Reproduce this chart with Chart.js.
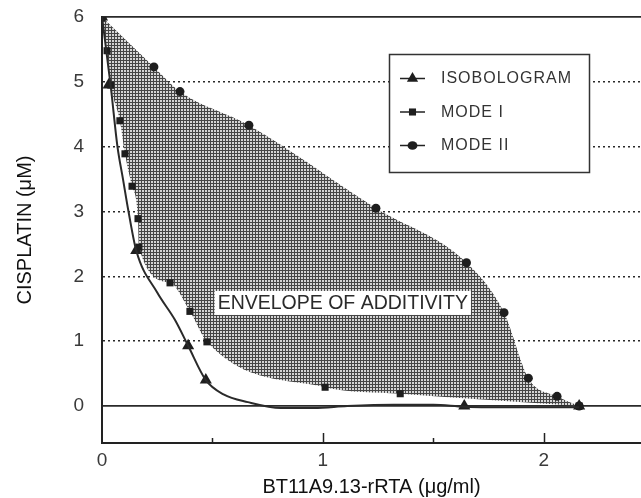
<!DOCTYPE html>
<html>
<head>
<meta charset="utf-8">
<script src="https://cdn.jsdelivr.net/npm/chart.js@4.4.0/dist/chart.umd.min.js"></script>
<style>
  html, body { margin: 0; padding: 0; background: #fff; }
</style>
</head>
<body>
<canvas id="myChart" width="641" height="498"></canvas>
<script>
// isobologram: smooth fitted curve and the measured points (triangles)
const isoCurveX = [0, 0.04, 0.07, 0.095, 0.12, 0.155, 0.25, 0.33, 0.39, 0.47, 0.55, 0.66, 0.81, 0.96, 1.11, 1.32, 1.5, 1.64, 1.9, 2.16];
const isoCurveY = [6, 4.92, 4.0, 3.5, 3.0, 2.4, 1.75, 1.33, 0.93, 0.4, 0.18, 0.06, -0.03, -0.03, 0, 0.02, 0.02, -0.01, -0.02, -0.02];
const isoX = [0, 0.03, 0.155, 0.39, 0.47, 1.64, 2.16];
const isoY = [6, 4.95, 2.4, 0.93, 0.4, 0, 0];

// mode I (squares) and mode II (circles) - the envelope is between them
const mode1X = [0, 0.023, 0.04, 0.081, 0.104, 0.136, 0.163, 0.167, 0.308, 0.398, 0.475, 1.01, 1.35, 2.16];
const mode1Y = [6, 5.48, 4.95, 4.40, 3.89, 3.39, 2.89, 2.45, 1.90, 1.46, 0.99, 0.29, 0.19, 0];
const mode2X = [0, 0.235, 0.353, 0.665, 1.24, 1.65, 1.82, 1.93, 2.06, 2.16];
const mode2Y = [6, 5.23, 4.85, 4.33, 3.05, 2.21, 1.44, 0.43, 0.15, 0];

const yTicks = [0, 1, 2, 3, 4, 5, 6];
const xTicks = [0, 1, 2];
const xMinorTicks = [0.5, 1.5];

const xTitle = 'BT11A9.13-rRTA (μg/ml)';
const yTitle = 'CISPLATIN (μM)';
const envelopeText = 'ENVELOPE OF ADDITIVITY';
const envelopeAt = { x: 1.09, y: 1.59 };

const fam = "'Liberation Sans', Arial, sans-serif";
const ink = '#1e1e1e';

const zip = (xs, ys) => xs.map((x, i) => ({ x: x, y: ys[i] }));

const canvas = document.getElementById('myChart');
const ctx = canvas.getContext('2d');

// cross hatch like the printed screen
function hatch() {
  const c = document.createElement('canvas');
  c.width = 3; c.height = 3;
  const g = c.getContext('2d');
  g.fillStyle = '#d4d4d4';
  g.fillRect(0, 0, 3, 3);
  g.fillStyle = '#454545';
  g.fillRect(0, 0, 3, 1);
  g.fillRect(0, 0, 1, 3);
  return ctx.createPattern(c, 'repeat');
}

function marker(c, style, x, y, r) {
  c.beginPath();
  if (style === 'triangle') {
    c.moveTo(x, y - r);
    c.lineTo(x + r * 0.866, y + r * 0.5);
    c.lineTo(x - r * 0.866, y + r * 0.5);
    c.closePath();
  } else if (style === 'rect') {
    const s = r * Math.SQRT1_2;
    c.rect(x - s, y - s, 2 * s, 2 * s);
  } else {
    c.ellipse(x, y, r * 1.1, r * 0.95, 0, 0, Math.PI * 2);
  }
  c.fill();
}

const extras = {
  id: 'extras',
  afterDatasetsDraw(chart) {
    const c = chart.ctx;
    const xs = chart.scales.x, ys = chart.scales.y;
    c.save();

    // inward tick marks on the x axis (0 sits on the y axis)
    c.strokeStyle = '#222';
    c.lineWidth = 1.5;
    const yb = chart.chartArea.bottom;
    xTicks.filter(v => v > 0).forEach(v => {
      const px = Math.round(xs.getPixelForValue(v)) + 0.5;
      c.beginPath(); c.moveTo(px, yb); c.lineTo(px, yb - 10); c.stroke();
    });
    xMinorTicks.forEach(v => {
      const px = Math.round(xs.getPixelForValue(v)) + 0.5;
      c.beginPath(); c.moveTo(px, yb); c.lineTo(px, yb - 5); c.stroke();
    });

    // envelope label
    c.font = '19.5px ' + fam;
    const tw = c.measureText(envelopeText).width;
    const cx = xs.getPixelForValue(envelopeAt.x);
    const cy = ys.getPixelForValue(envelopeAt.y);
    c.fillStyle = '#fff';
    c.fillRect(cx - tw / 2 - 3, cy - 12, tw + 6, 24);
    c.fillStyle = '#2a2a2a';
    c.textAlign = 'center';
    c.textBaseline = 'middle';
    c.fillText(envelopeText, cx, cy + 1);

    // boxed legend
    c.fillStyle = '#fff';
    c.fillRect(389, 54, 200, 118);
    c.strokeStyle = '#333';
    c.lineWidth = 1.5;
    c.strokeRect(389.5, 54.5, 200, 118);
    const items = chart.data.datasets.filter(d => d.inLegend);
    c.font = '16px ' + fam;
    c.letterSpacing = '1px';
    c.textAlign = 'left';
    items.forEach((d, i) => {
      const y = 78 + i * 33.5;
      c.strokeStyle = '#222';
      c.lineWidth = 1.5;
      c.beginPath(); c.moveTo(400, y + 0.5); c.lineTo(425, y + 0.5); c.stroke();
      c.fillStyle = ink;
      marker(c, d.pointStyle, 412.5, y + 0.5, d.pointStyle === 'triangle' ? 6.5 : d.pointRadius);
      c.fillStyle = '#333';
      c.fillText(d.label, 441, y + 1);
    });
    c.restore();
  }
};

new Chart(ctx, {
  type: 'line',
  data: {
    datasets: [
      {
        label: 'isobologram curve',
        data: zip(isoCurveX, isoCurveY),
        borderColor: '#2a2a2a',
        borderWidth: 2,
        pointRadius: 0,
        cubicInterpolationMode: 'monotone',
        fill: false
      },
      {
        label: 'ISOBOLOGRAM',
        inLegend: true,
        data: zip(isoX, isoY),
        showLine: false,
        pointStyle: 'triangle',
        pointRadius: 7,
        pointBackgroundColor: ink,
        pointBorderWidth: 0,
        fill: false
      },
      {
        label: 'MODE I',
        inLegend: true,
        data: zip(mode1X, mode1Y),
        borderWidth: 0,
        backgroundColor: hatch(),
        fill: 3,
        cubicInterpolationMode: 'monotone',
        pointStyle: 'rect',
        pointRadius: 5,
        pointBackgroundColor: ink,
        pointBorderWidth: 0
      },
      {
        label: 'MODE II',
        inLegend: true,
        data: zip(mode2X, mode2Y),
        borderWidth: 0,
        fill: false,
        cubicInterpolationMode: 'monotone',
        pointStyle: 'circle',
        pointRadius: 4.5,
        pointBackgroundColor: ink,
        pointBorderWidth: 0
      }
    ]
  },
  options: {
    responsive: false,
    animation: false,
    devicePixelRatio: 1,
    layout: { autoPadding: false, padding: { top: 17, right: 0, left: 0, bottom: 0 } },
    plugins: {
      legend: { display: false },
      tooltip: { enabled: false },
      filler: { drawTime: 'beforeDatasetsDraw' }
    },
    scales: {
      x: {
        type: 'linear',
        min: 0,
        max: 2.44,
        afterBuildTicks: s => { s.ticks = xTicks.map(v => ({ value: v })); },
        afterFit: s => { s.height = 55; s.paddingLeft = 0; s.paddingRight = 0; },
        grid: { display: false, drawTicks: false },
        border: { display: true, color: '#222', width: 2 },
        ticks: { padding: 6, color: '#3a3a3a', font: { size: 19, family: fam }, callback: v => v },
        title: { display: true, text: xTitle, color: '#111', padding: 0, font: { size: 20, family: fam, lineHeight: 1.1 } }
      },
      y: {
        type: 'linear',
        min: -0.57,
        max: 6,
        afterBuildTicks: s => { s.ticks = yTicks.map(v => ({ value: v })); },
        afterFit: s => { s.width = 102; s.paddingTop = 0; s.paddingBottom = 0; },
        grid: {
          color: '#2a2a2a',
          lineWidth: c => (c.tick && (c.tick.value === 0 || c.tick.value === 6)) ? 1.8 : 1.6,
          drawTicks: false
        },
        border: {
          display: true, color: '#222', width: 2,
          dash: c => (c.tick && c.tick.value > 0 && c.tick.value < 6) ? [2, 3] : []
        },
        ticks: { padding: 18, color: '#3a3a3a', font: { size: 19, family: fam }, callback: v => v },
        title: { display: true, text: yTitle, color: '#111', padding: { top: 14, bottom: 0 }, font: { size: 20, family: fam, lineHeight: 1.1 } }
      }
    }
  },
  plugins: [extras]
});
</script>
</body>
</html>
